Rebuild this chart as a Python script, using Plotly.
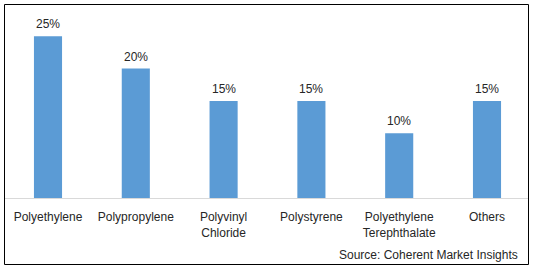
import plotly.graph_objects as go

categories = ["Polyethylene", "Polypropylene", "Polyvinyl<br>Chloride", "Polystyrene",
              "Polyethylene<br>Terephthalate", "Others"]
shares = [25, 20, 15, 15, 10, 15]
labels = [f"{v}%" for v in shares]

W, H = 538, 272
ml, mr, mt, mb = 5, 10, 5, 74
pw, ph = W - ml - mr, H - mt - mb

fig = go.Figure()
fig.add_trace(go.Bar(x=list(range(len(categories))), y=shares,
                     marker=dict(color="#5B9BD5", line=dict(width=0)),
                     hoverinfo="skip"))

for i, (v, t) in enumerate(zip(shares, labels)):
    fig.add_annotation(x=i, y=v, text=t, showarrow=False, yshift=12,
                       font=dict(family="Liberation Sans, Arial", size=12, color="#262626"))

fig.add_annotation(xref="paper", yref="paper", x=(520 - ml) / pw, y=(mt + ph - 255) / ph,
                   text="Source: Coherent Market Insights", showarrow=False,
                   xanchor="right", yanchor="middle",
                   font=dict(family="Liberation Sans, Arial", size=12, color="#262626"))

# outer frame
fig.add_shape(type="rect", xref="paper", yref="paper",
              x0=(4.5 - ml) / pw, x1=(528.5 - ml) / pw,
              y0=(mt + ph - 264.5) / ph, y1=(mt + ph - 4.5) / ph,
              line=dict(color="#000000", width=1), fillcolor="rgba(0,0,0,0)", layer="above")

fig.update_layout(
    width=W, height=H,
    margin=dict(l=ml, r=mr, t=mt, b=mb, pad=0),
    paper_bgcolor="white", plot_bgcolor="white",
    bargap=0.68, showlegend=False,
    font=dict(family="Liberation Sans, Arial", size=12, color="#262626"),
    xaxis=dict(tickmode="array", tickvals=list(range(len(categories))), ticktext=categories,
               range=[-43 / 87.8, (pw - 43) / 87.8],
               showline=True, linecolor="#D9D9D9", linewidth=1,
               showgrid=False, zeroline=False, ticks="", ticklabelstandoff=8,
               tickfont=dict(family="Liberation Sans, Arial", size=12, color="#262626")),
    yaxis=dict(range=[0, ph / 6.47], visible=False, showgrid=False, zeroline=False),
)

fig.write_html("out.html")
